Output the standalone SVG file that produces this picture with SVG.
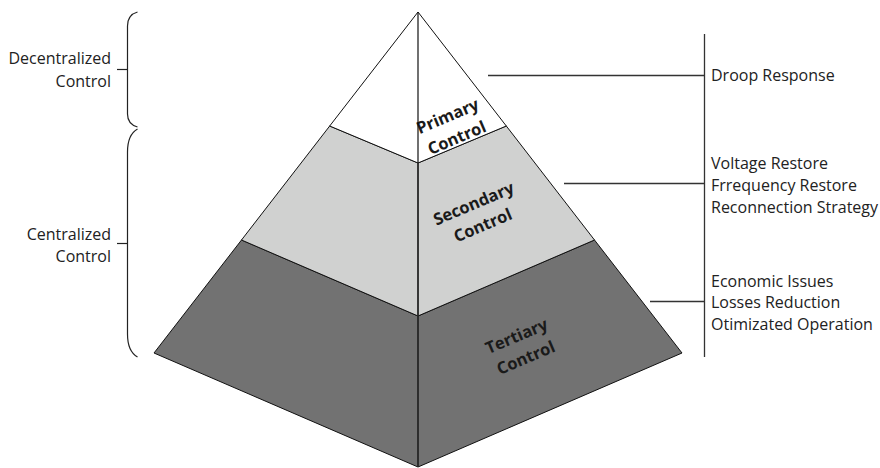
<svg xmlns="http://www.w3.org/2000/svg" width="880" height="468" viewBox="0 0 880 468">
  <style>
    .edge { stroke: #111; stroke-width: 1; stroke-linejoin: miter; }
    .lbl { font-family: "Open Sans", "Liberation Sans", sans-serif; font-size: 16px; fill: #222; }
    .tier { font-family: "Open Sans", "Liberation Sans", sans-serif; font-size: 16.5px; font-weight: bold; fill: #1a1a1a; text-anchor: middle; }
    .rule { stroke: #333; stroke-width: 1.3; fill: none; }
    .brace { stroke: #222; stroke-width: 1.2; fill: none; }
  </style>
  <rect width="880" height="468" fill="#ffffff"/>

  <!-- pyramid tiers -->
  <g id="tertiary">
    <polygon class="edge" fill="#727272" points="241.5,240 418,316 594.5,240 682,353 418,467 154,353"/>
    <text class="tier" transform="translate(521,346.5) rotate(-23)"><tspan x="0" y="-5.5">Tertiary</tspan><tspan x="0" y="18">Control</tspan></text>
  </g>
  <g id="secondary">
    <polygon class="edge" fill="#d0d1d0" points="329.7,126 418,163 506.3,126 594.5,240 418,316 241.5,240"/>
    <text class="tier" transform="translate(478,214) rotate(-23)"><tspan x="0" y="-5.5">Secondary</tspan><tspan x="0" y="18">Control</tspan></text>
  </g>
  <g id="primary">
    <polygon class="edge" fill="#ffffff" points="418,12 506.3,126 418,163 329.7,126"/>
    <text class="tier" transform="translate(452,126.5) rotate(-23)"><tspan x="0" y="-5.5">Primary</tspan><tspan x="0" y="18">Control</tspan></text>
  </g>
  <!-- central ridge -->
  <line x1="418" y1="12" x2="418" y2="163" stroke="#111" stroke-width="1.2"/>
  <line x1="418" y1="163" x2="418" y2="467" stroke="#262626" stroke-width="1.8"/>

  <!-- left braces -->
  <g id="decentralized">
    <path class="brace" d="M137.5,12 C130.5,14 127.5,19 127.5,26 L127.5,114 C127.5,121 130.5,125 137.5,127"/>
    <path class="brace" d="M117,69.5 H127.5"/>
    <text class="lbl" text-anchor="end"><tspan x="111" y="64">Decentralized</tspan><tspan x="111" y="87">Control</tspan></text>
  </g>
  <g id="centralized">
    <path class="brace" d="M137.5,129 C130.5,133 127.5,140 127.5,152 L127.5,334 C127.5,346 130.5,353 137.5,357"/>
    <path class="brace" d="M117,243.5 H127.5"/>
    <text class="lbl" text-anchor="end"><tspan x="111" y="240">Centralized</tspan><tspan x="111" y="262">Control</tspan></text>
  </g>

  <!-- connectors to the function list -->
  <g id="connectors">
    <line class="rule" x1="704.5" y1="34" x2="704.5" y2="357"/>
    <line class="rule" x1="488" y1="75.5" x2="704.5" y2="75.5"/>
    <line class="rule" x1="564" y1="183.5" x2="704.5" y2="183.5"/>
    <line class="rule" x1="650" y1="301.5" x2="704.5" y2="301.5"/>
  </g>

  <!-- function lists -->
  <g id="primary-functions">
    <text class="lbl" x="711" y="81">Droop Response</text>
  </g>
  <g id="secondary-functions">
    <text class="lbl"><tspan x="711" y="168.5">Voltage Restore</tspan><tspan x="711" y="190.5">Frrequency Restore</tspan><tspan x="711" y="212.5">Reconnection Strategy</tspan></text>
  </g>
  <g id="tertiary-functions">
    <text class="lbl"><tspan x="711" y="286.5">Economic Issues</tspan><tspan x="711" y="308">Losses Reduction</tspan><tspan x="711" y="330">Otimizated Operation</tspan></text>
  </g>
</svg>
